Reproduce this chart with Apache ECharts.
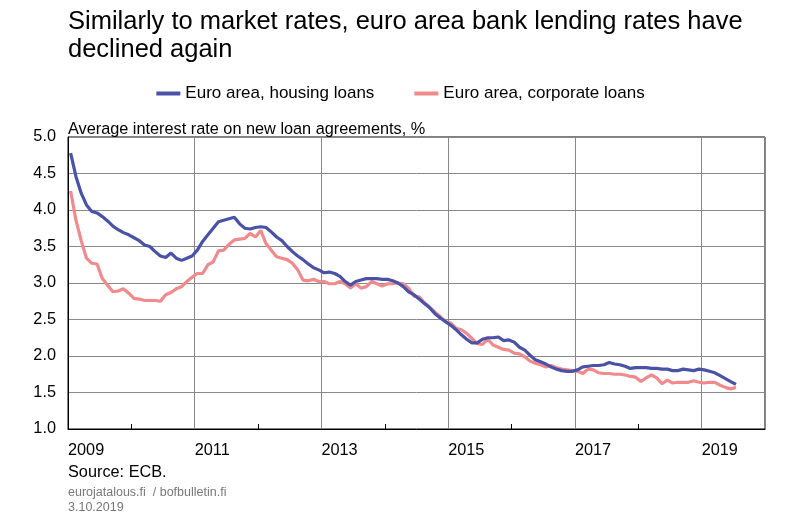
<!DOCTYPE html>
<html><head><meta charset="utf-8">
<script src="https://cdn.jsdelivr.net/npm/echarts@6/dist/echarts.min.js"></script>
<style>body{margin:0;background:#fff}#c{width:801px;height:523px}</style></head>
<body><div id="c"></div>
<script>
const startYear = 2009;
const housing = [4.78,4.46,4.23,4.07,3.98,3.96,3.91,3.85,3.78,3.73,3.69,3.66,
3.62,3.58,3.52,3.50,3.43,3.37,3.35,3.41,3.34,3.31,3.34,3.37,
3.45,3.57,3.66,3.75,3.84,3.86,3.88,3.90,3.81,3.75,3.74,3.76,
3.77,3.76,3.70,3.63,3.58,3.50,3.43,3.37,3.32,3.26,3.21,3.18,
3.14,3.15,3.13,3.09,3.02,2.97,3.02,3.04,3.06,3.06,3.06,3.05,
3.05,3.03,3.00,2.95,2.88,2.84,2.78,2.72,2.66,2.58,2.52,2.47,
2.42,2.36,2.29,2.23,2.18,2.18,2.23,2.25,2.25,2.26,2.21,2.22,
2.19,2.12,2.08,2.01,1.95,1.92,1.89,1.85,1.82,1.80,1.79,1.79,
1.81,1.85,1.86,1.87,1.87,1.88,1.91,1.89,1.88,1.86,1.83,1.84,
1.84,1.84,1.83,1.83,1.82,1.82,1.80,1.80,1.82,1.81,1.80,1.82,
1.81,1.79,1.77,1.73,1.69,1.65,1.61];
const corporate = [4.26,3.86,3.58,3.34,3.27,3.26,3.06,2.97,2.88,2.89,2.92,2.86,
2.79,2.78,2.76,2.76,2.76,2.75,2.84,2.87,2.92,2.95,3.02,3.08,
3.13,3.13,3.25,3.29,3.44,3.45,3.53,3.59,3.60,3.61,3.68,3.63,
3.72,3.54,3.45,3.36,3.34,3.32,3.27,3.18,3.04,3.03,3.05,3.02,
3.02,2.99,2.99,3.02,2.99,2.93,2.99,2.93,2.95,3.02,2.99,2.96,
2.99,2.99,3.00,2.99,2.93,2.82,2.81,2.73,2.67,2.60,2.54,2.47,
2.45,2.38,2.36,2.31,2.24,2.17,2.16,2.23,2.15,2.12,2.09,2.08,
2.04,2.03,1.99,1.93,1.90,1.88,1.85,1.87,1.84,1.82,1.81,1.80,
1.79,1.76,1.82,1.81,1.77,1.76,1.76,1.75,1.75,1.74,1.72,1.71,
1.65,1.70,1.74,1.70,1.62,1.67,1.63,1.64,1.64,1.64,1.66,1.64,
1.63,1.64,1.64,1.60,1.57,1.55,1.57];
const yearLabels = ['2009','2010','2011','2012','2013','2014','2015','2016','2017','2018','2019',''];
const months = housing.map((_, i) => i / 12 + 0.5 / 12);
const F = 'Liberation Sans, Arial, sans-serif';
const chart = echarts.init(document.getElementById('c'));
chart.setOption({
  animation: false,
  textStyle: {fontFamily: F},
  title: [
    {text: 'Similarly to market rates, euro area bank lending rates have\ndeclined again', left: 63, top: 3,
     textStyle: {fontSize: 25.5, fontWeight: 'normal', color: '#000', lineHeight: 28, fontFamily: F}},
    {text: 'Average interest rate on new loan agreements, %', left: 63, top: 117,
     textStyle: {fontSize: 16.3, fontWeight: 'normal', color: '#000', fontFamily: F}},
    {text: 'Source: ECB.', left: 63, top: 460,
     textStyle: {fontSize: 16.3, fontWeight: 'normal', color: '#000', fontFamily: F}},
    {text: 'eurojatalous.fi  / bofbulletin.fi\n3.10.2019', left: 63, top: 480,
     textStyle: {fontSize: 12.5, fontWeight: 'normal', color: '#777', lineHeight: 15, fontFamily: F}}
  ],
  legend: {top: 80, left: 'center', itemWidth: 24, itemHeight: 4, itemGap: 40,
    icon: 'rect', textStyle: {fontSize: 17, color: '#000', fontFamily: F},
    data: ['Euro area, housing loans', 'Euro area, corporate loans']},
  grid: {left: 68, right: 36, top: 137, bottom: 94, show: true, borderColor: '#000', borderWidth: 1},
  xAxis: {type: 'value', min: 0, max: 11, interval: 2,
    axisLine: {lineStyle: {color: '#000'}},
    axisTick: {show: true, inside: true, length: 0},
    minorTick: {show: true, splitNumber: 2, length: 5, lineStyle: {color: '#000'}},
    splitLine: {show: true, lineStyle: {color: '#888'}},
    axisLabel: {formatter: v => yearLabels[v], align: 'left', margin: 14, fontSize: 16.3, color: '#000', fontFamily: F}},
  yAxis: {type: 'value', min: 1, max: 5, interval: 0.5,
    axisLine: {show: true, lineStyle: {color: '#000'}},
    axisTick: {show: false},
    splitLine: {lineStyle: {color: '#888'}},
    axisLabel: {formatter: v => v.toFixed(1), fontSize: 16.3, color: '#000', margin: 12, fontFamily: F}},
  series: [
    {name: 'Euro area, housing loans', type: 'line', showSymbol: false, color: '#4a52a6',
     lineStyle: {width: 3.2}, data: months.map((x, i) => [x, housing[i]]), z: 3},
    {name: 'Euro area, corporate loans', type: 'line', showSymbol: false, color: '#f08a8c',
     lineStyle: {width: 3.2}, data: months.map((x, i) => [x, corporate[i]]), z: 2}
  ]
});
</script></body></html>
